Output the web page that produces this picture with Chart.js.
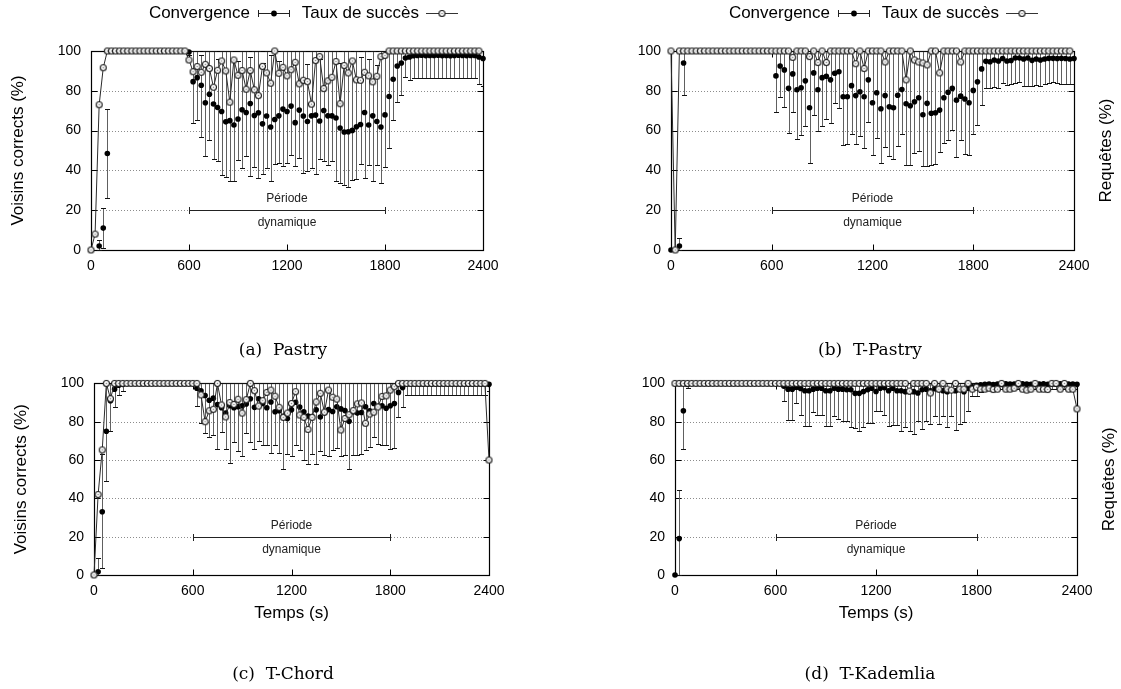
<!DOCTYPE html>
<html><head><meta charset="utf-8">
<script src="https://cdn.jsdelivr.net/npm/chart.js@4.4.1/dist/chart.umd.min.js"></script>
<style>
html,body{margin:0;padding:0;background:#fff;}
body{width:1121px;height:689px;position:relative;overflow:hidden;}
canvas{position:absolute;}
</style></head><body>
<canvas id="cA" width="560" height="365" style="left:0;top:0"></canvas>
<canvas id="cB" width="561" height="365" style="left:560px;top:0"></canvas>
<canvas id="cC" width="560" height="324" style="left:0;top:365px"></canvas>
<canvas id="cD" width="561" height="324" style="left:560px;top:365px"></canvas>
<script>
const N = null;
const times = [
0,25,50,75,100,125,150,175,
200,225,250,275,300,325,350,375,
400,425,450,475,500,525,550,575,
600,625,650,675,700,725,750,775,
800,825,850,875,900,925,950,975,
1000,1025,1050,1075,1100,1125,1150,1175,
1200,1225,1250,1275,1300,1325,1350,1375,
1400,1425,1450,1475,1500,1525,1550,1575,
1600,1625,1650,1675,1700,1725,1750,1775,
1800,1825,1850,1875,1900,1925,1950,1975,
2000,2025,2050,2075,2100,2125,2150,2175,
2200,2225,2250,2275,2300,2325,2350,2375,
2400];
const xTicks = [0,600,1200,1800,2400];
const yTicks = [0,20,40,60,80,100];
const seriesNames = ['Convergence','Taux de succès'];
const captions = ['(a)  Pastry','(b)  T-Pastry','(c)  T-Chord','(d)  T-Kademlia'];
const dynStart = 600, dynEnd = 1800, dynLevel = 20;

/* ---- (a) Pastry ---- */
const convA = [
0,N,2,11,48.5,N,N,N,
N,N,N,N,N,N,N,N,
N,N,N,N,N,N,N,N,
99.5,84.6,86.6,82.8,74,78.3,73.4,71.6,
69.6,64.4,65,62.8,65.8,70.5,69.1,73.6,
67.6,69,63.4,67.3,61.8,65.6,67.4,70.8,
69.6,72.3,64,70.3,67.3,64.6,67.4,67.8,
64.8,70.1,67.4,67.4,66.3,61.3,59.3,59.4,
60.1,61.9,63.1,69.1,62.8,67.4,64.6,61.8,
67.9,77.1,85.8,92.5,94,96.5,97,97.6,
97.8,97.9,97.7,97.8,97.8,97.9,97.7,97.8,
97.6,97.8,97.9,97.8,97.7,97.8,97.8,97,
96.2];
const loA = [
N,N,0,1,26,N,N,N,
N,N,N,N,N,N,N,N,
N,N,N,N,N,N,N,N,
98,64,65.4,57,47.4,55.4,45.7,44.6,
37.9,36.7,34.9,34.6,45,41.2,47,37.4,
41.6,36.2,38.4,41,34.9,43.4,43.7,42,
43.7,47.6,42,46,38.7,39.9,41.2,38.4,
45.7,44.6,42.6,44.6,34.6,33.6,32.9,31.7,
35.4,35.9,43.4,36.2,42.9,34.9,42.9,33.9,
41.7,51.4,65.4,74.5,77.8,87.1,85.5,86.3,
86.3,86.3,86.3,86.3,86.3,86.3,86.3,86.3,
86.3,86.3,86.3,86.3,86.3,86.3,86.3,83.3,
82.5];
const hiA = [
N,N,5,21,71,N,N,N,
N,N,N,N,N,N,N,N,
N,N,N,N,N,N,N,N,
100,100,100,98,100,100,100,96,
100,100,100,95.8,95,100,100,97,
100,100,94,100,98,100,95,100,
100,100,100,100,100,93.5,100,100,
96,100,100,100,100,94,100,100,
95,100,97,100,96,100,93,100,
100,100,100,100,100,100,100,100,
100,100,100,100,100,100,100,100,
100,100,100,100,100,100,100,100,
100];
const tauxA = [
0,8,73,91.6,100,100,100,100,
100,100,100,100,100,100,100,100,
100,100,100,100,100,100,100,100,
95.5,89.6,92.2,89.3,93.3,91.2,81.8,90.3,
95,90,74.3,95.5,87.8,90.2,80.8,90.2,
80.5,77.6,92.3,89,83.8,100,88.8,91.8,
87.5,90.6,94.3,83.5,85.3,84.6,73.3,95.2,
97.2,81.1,85,86.8,94.7,73.5,92.7,89,
95,85.5,85.3,89.3,87.5,84.5,87.3,97.2,
97.8,100,100,100,100,100,100,100,
100,100,100,100,100,100,100,100,
100,100,100,100,100,100,100,100,
N];

/* ---- (b) T-Pastry ---- */
const convB = [
0,N,2,94,N,N,N,N,
N,N,N,N,N,N,N,N,
N,N,N,N,N,N,N,N,
N,87.5,92.5,90.5,81.3,88.5,80.5,81.5,
85,71.5,89,80.5,86.6,87.3,85.5,88.8,
89.6,77,77,82.6,77.6,79.5,77,85.5,
74,79,71,77.6,72,71.5,77.8,80.6,
73.5,72.5,74.5,76.5,68,73.7,68.7,69,
70.3,76.5,79.3,81.2,75.3,77.3,75.9,74,
80.2,84.5,91,94.8,94.6,95.5,95,96.2,
95,95.2,96.5,96.5,96,96.5,95.3,96,
95.5,96,96.3,96.3,96.2,96.3,96.2,96,
96.2];
const loB = [
N,N,0,78,N,N,N,N,
N,N,N,N,N,N,N,N,
N,N,N,N,N,N,N,N,
N,69.4,77,71.8,58.8,69.1,55.9,57.9,
62.1,43.7,67.8,59.6,62.1,65.6,63.8,73.8,
71.3,52.6,53.4,58.1,53.4,57.1,51.3,64.1,
47.9,56.3,43.7,51.8,47.1,45.9,52.4,58.1,
42.6,42.9,48.7,49.6,42.1,42.1,42.6,43.2,
49.1,53.8,55.4,60.4,46.7,55.4,48.4,47.9,
58.3,62.8,73,81.3,81.3,81.8,81.3,83.8,
83,83.2,84,84.3,82.5,82.5,82.2,83,
82.5,83.2,83.8,84.3,83.8,83.5,83.5,83.2,
83.5];
const hiB = [
N,N,6,100,N,N,N,N,
N,N,N,N,N,N,N,N,
N,N,N,N,N,N,N,N,
N,100,100,100,100,100,100,100,
100,100,100,100,100,100,100,100,
100,100,100,100,100,100,100,100,
100,100,100,100,100,100,100,100,
100,100,100,100,100,100,100,100,
100,100,100,100,100,100,100,100,
100,100,100,100,100,100,100,100,
100,100,100,100,100,100,100,100,
100,100,100,100,100,100,100,100,
100];
const tauxB = [
100,0,100,100,100,100,100,100,
100,100,100,100,100,100,100,100,
100,100,100,100,100,100,100,100,
100,100,100,100,100,96.8,100,100,
100,97.2,100,94.2,100,94.2,100,100,
100,100,100,100,93.6,100,91.2,100,
100,100,100,94.5,100,100,100,100,
85.5,100,95.5,94.5,94,93,100,100,
89,100,100,100,100,94.5,100,100,
100,100,100,100,100,100,100,100,
100,100,100,100,100,100,100,100,
100,100,100,100,100,100,100,100,
N];

/* ---- (c) T-Chord ---- */
const convC = [
0,1.7,33,75,91,97,99,99.5,
N,N,N,N,N,N,N,N,
N,N,N,N,N,N,N,N,
N,97.5,96.2,93.7,91.2,92.3,89,87.3,
84.5,88.3,87.3,87.8,88.3,89.3,92,87.5,
92,89.5,87.3,90.3,85.2,85.7,82.8,81.7,
86.2,90.2,87.7,85.2,83,82.7,86.2,82.5,
84.7,86.3,85.3,87.8,86.7,85.8,80.2,85.2,
84.5,84.8,87.8,85.7,89.5,88,88.3,87,
88.3,89.5,95.3,97.8,99.7,99.7,99.7,99.7,
99.7,99.7,99.7,99.7,99.7,99.7,99.7,99.7,
99.7,99.7,99.7,99.7,99.7,99.7,99.7,99.7,
99.5];
const loC = [
N,0,3.7,49,75,87.5,94,96,
N,N,N,N,N,N,N,N,
N,N,N,N,N,N,N,N,
N,88.3,79.5,74.2,72,73.3,66,74.5,
65.8,58.7,69.2,64.8,62,74.2,69.5,66,
69.8,67.8,67.8,63.7,67.8,63.7,55.3,63.2,
62,67.8,65.3,59.8,57.8,63.2,57.8,64.5,
62.8,62,65.3,66.5,62,62.8,55.3,62.5,
62.8,63.2,65.3,67,72,68.3,68,67.8,
66,66.5,82.5,87.5,94,94,94,94,
94,94,94,94,94,94,94,94,
94,94,94,94,94,94,94,94,
96];
const hiC = [
N,9,63,100,100,100,100,100,
N,N,N,N,N,N,N,N,
N,N,N,N,N,N,N,N,
N,100,100,100,100,100,100,100,
100,100,100,100,100,100,100,100,
100,100,100,100,100,100,100,100,
100,100,100,100,100,100,100,100,
100,100,100,100,100,100,100,100,
100,100,100,100,100,100,100,100,
100,100,100,100,100,100,100,100,
100,100,100,100,100,100,100,100,
100,100,100,100,100,100,100,100,
100];
const tauxC = [
0,42,65.3,100,92,100,100,100,
100,100,100,100,100,100,100,100,
100,100,100,100,100,100,100,100,
100,100,94,80,85.7,86.5,100,88.7,
82.5,90,89,91.7,84.5,91.5,100,96.2,
88.2,91,95.3,96.5,93.3,87.5,82.3,84.5,
89.5,95.7,83.5,82.3,76,82.3,90.3,94.8,
85,96.5,92.8,91.8,75.7,81.7,83.7,85.8,
89.3,89.8,79.2,84,85,87.7,93.2,93.5,
96.5,98.3,100,100,100,100,100,100,
100,100,100,100,100,100,100,100,
100,100,100,100,100,100,100,100,
60];

/* ---- (d) T-Kademlia ---- */
const convD = [
0,19,85.7,99.5,N,N,N,N,
N,N,N,N,N,N,N,N,
N,N,N,N,N,N,N,N,
N,N,98.5,97,97,98,97.3,96.2,
96.2,97,97.5,97.5,96.2,96.2,97.5,97,
97,96.7,96.7,94.8,94.8,95.8,96.7,97.5,
95.8,97.5,97.8,96.2,97.5,96.2,96.2,95.7,
95.7,95.7,95,96.7,97,96.2,97.2,96.7,
96.2,95.7,96.7,96.2,97,95.7,97.5,98.2,
99,99.3,99.5,99.6,99.4,99.7,99.5,99.8,
99.6,99.7,99.5,99.8,99.6,99.5,99.7,99.6,
99.8,99.5,99.7,99.6,99.8,99.5,99.7,99.6,
99.5];
const loD = [
N,0,65.7,97.8,N,N,N,N,
N,N,N,N,N,N,N,N,
N,N,N,N,N,N,N,N,
N,N,91,80.7,80.7,90,83.5,78,
77.7,85.3,83.3,83.5,77.7,77.7,82.8,81.2,
80.3,80.3,77,76.5,75,77.5,79.5,79.2,
85.8,85.7,83.7,77.8,78.5,78.2,75.3,77.3,
75.3,73.5,80.3,76,80.3,78.7,82.8,78.7,
82.8,77,82.8,75.8,78.7,80,85.7,93.2,
93.5,95.5,97,97,97,97,97,97,
97,97,97,97,97,97,97,97,
97,97,97,97,97,97,97,97,
97];
const hiD = [
N,44.5,100,100,N,N,N,N,
N,N,N,N,N,N,N,N,
N,N,N,N,N,N,N,N,
N,N,100,100,100,100,100,100,
100,100,100,100,100,100,100,100,
100,100,100,100,100,100,100,100,
100,100,100,100,100,100,100,100,
100,100,100,100,100,100,100,100,
100,100,100,100,100,100,100,100,
100,100,100,100,100,100,100,100,
100,100,100,100,100,100,100,100,
100,100,100,100,100,100,100,100,
100];
const tauxD = [
100,100,100,100,100,100,100,100,
100,100,100,100,100,100,100,100,
100,100,100,100,100,100,100,100,
100,100,100,100,100,100,100,100,
100,100,100,100,100,100,100,100,
100,100,100,100,100,100,100,100,
100,100,100,100,100,100,100,100,
96,100,100,100,100,95,100,97,
100,97,96.5,100,97,97,100,97,
98,97,97,97.5,96.8,97,100,97,
97,97.5,100,97,96.5,97,100,97,
97,96.8,100,100,97,100,97,97,
86.7];

/* ---------- drawing ---------- */
Chart.defaults.font.family = "'Liberation Sans', Arial, sans-serif";
Chart.defaults.color = '#000';
const SANS = "'Liberation Sans', Arial, sans-serif";
const SERIF = "'DejaVu Serif', 'Liberation Serif', serif";

function makeCircleImg(){
  const c = document.createElement('canvas'); c.width = 9; c.height = 9;
  const g = c.getContext('2d');
  g.beginPath(); g.arc(4.5,4.5,3.0,0,Math.PI*2);
  g.fillStyle = '#fff'; g.fill(); g.lineWidth = 1.1; g.strokeStyle = '#1a1a1a'; g.stroke();
  g.beginPath(); g.arc(4.5,4.5,0.8,0,Math.PI*2); g.fillStyle = '#888'; g.fill();
  return c;
}
const circleImg = makeCircleImg();

function pts(vals){
  const out = [];
  vals.forEach((v,i)=>{ if (v !== null) out.push({x: times[i], y: v}); });
  return out;
}

function deco(P){
  return {
    id: 'deco' + P.key,
    beforeDatasetsDraw(chart){
      const {ctx, chartArea: a, scales: {x, y}} = chart;
      ctx.save();
      ctx.strokeStyle = '#8c8c8c'; ctx.lineWidth = 1; ctx.setLineDash([1,2]);
      yTicks.forEach(v => {
        if (v <= 0 || v >= 100) return;
        const py = Math.round(y.getPixelForValue(v)) + 0.5;
        ctx.beginPath(); ctx.moveTo(a.left, py); ctx.lineTo(a.right, py); ctx.stroke();
      });
      ctx.setLineDash([]);
      const L = Math.round(a.left)+0.5, R = Math.round(a.right)+0.5, T = Math.round(a.top)+0.5, B = Math.round(a.bottom)+0.5;
      ctx.strokeStyle = '#000'; ctx.lineWidth = 1.2;
      ctx.strokeRect(L, T, R-L, B-T);
      ctx.lineWidth = 1;
      xTicks.forEach(v => {
        const px = Math.round(x.getPixelForValue(v)) + 0.5;
        ctx.beginPath(); ctx.moveTo(px, B); ctx.lineTo(px, B-6); ctx.moveTo(px, T); ctx.lineTo(px, T+6); ctx.stroke();
      });
      yTicks.forEach(v => {
        const py = Math.round(y.getPixelForValue(v)) + 0.5;
        ctx.beginPath(); ctx.moveTo(L, py); ctx.lineTo(L+6, py); ctx.moveTo(R, py); ctx.lineTo(R-6, py); ctx.stroke();
      });
      const x1 = Math.round(x.getPixelForValue(dynStart))+0.5, x2 = Math.round(x.getPixelForValue(dynEnd))+0.5;
      const yb = Math.round(y.getPixelForValue(dynLevel))+0.5;
      ctx.strokeStyle = '#222';
      ctx.beginPath(); ctx.moveTo(x1, yb); ctx.lineTo(x2, yb);
      ctx.moveTo(x1, yb-3.5); ctx.lineTo(x1, yb+3.5); ctx.moveTo(x2, yb-3.5); ctx.lineTo(x2, yb+3.5); ctx.stroke();
      ctx.fillStyle = '#222'; ctx.font = '12px ' + SANS; ctx.textAlign = 'center'; ctx.textBaseline = 'middle';
      const xc = x.getPixelForValue((dynStart+dynEnd)/2);
      ctx.fillText('Période', xc, yb - 12);
      ctx.fillText('dynamique', xc, yb + 12);
      ctx.beginPath(); ctx.rect(a.left, a.top-1, a.right-a.left, a.bottom-a.top+2); ctx.clip();
      for (let i = 0; i < times.length; i++){
        const lo = P.lo[i], hi = P.hi[i];
        if (lo === null || hi === null) continue;
        const px = Math.round(x.getPixelForValue(times[i])) + 0.5;
        const yl = Math.round(y.getPixelForValue(lo)) + 0.5, yh = Math.round(y.getPixelForValue(hi)) + 0.5;
        ctx.strokeStyle = '#606060'; ctx.lineWidth = 1;
        ctx.beginPath(); ctx.moveTo(px, yl); ctx.lineTo(px, yh); ctx.stroke();
        ctx.strokeStyle = '#111';
        ctx.beginPath(); ctx.moveTo(px-2.5, yl); ctx.lineTo(px+2.5, yl); ctx.moveTo(px-2.5, yh); ctx.lineTo(px+2.5, yh); ctx.stroke();
      }
      ctx.restore();
    },
    afterDraw(chart){
      const {ctx, chartArea: a} = chart;
      ctx.save();
      ctx.fillStyle = '#000';
      ctx.textBaseline = 'middle';
      if (P.legend){
        const ly = 13;
        ctx.font = '17px ' + SANS; ctx.textAlign = 'right';
        ctx.fillText(seriesNames[0], a.left + 159, ly);
        ctx.fillText(seriesNames[1], a.left + 328, ly);
        const s1 = a.left + 167, s2 = a.left + 199;
        ctx.strokeStyle = '#222'; ctx.lineWidth = 1;
        ctx.beginPath(); ctx.moveTo(s1, ly+0.5); ctx.lineTo(s2, ly+0.5);
        ctx.moveTo(s1+0.5, ly-3); ctx.lineTo(s1+0.5, ly+4); ctx.moveTo(s2-0.5, ly-3); ctx.lineTo(s2-0.5, ly+4); ctx.stroke();
        ctx.beginPath(); ctx.arc((s1+s2)/2, ly+0.5, 2.9, 0, Math.PI*2); ctx.fillStyle = '#000'; ctx.fill();
        const t1 = a.left + 335, t2 = a.left + 367;
        ctx.strokeStyle = '#333';
        ctx.beginPath(); ctx.moveTo(t1, ly+0.5); ctx.lineTo(t2, ly+0.5); ctx.stroke();
        ctx.drawImage(circleImg, (t1+t2)/2 - 4.5, ly + 0.5 - 4.5);
      }
      ctx.fillStyle = '#000';
      ctx.font = '17px ' + SANS; ctx.textAlign = 'center';
      ctx.save();
      const ytx = P.yTitleLeft ? a.left - 73 : a.right + 32;
      ctx.translate(ytx, (a.top + a.bottom)/2);
      ctx.rotate(-Math.PI/2);
      ctx.fillText(P.yTitle, 0, 0);
      ctx.restore();
      if (P.xTitle){
        ctx.fillText(P.xTitle, (a.left + a.right)/2, a.bottom + 38);
      }
      ctx.font = '17px ' + SERIF; ctx.textAlign = 'center';
      ctx.fillText(P.caption, P.capX, P.capY);
      ctx.restore();
    }
  };
}

function panel(id, P){
  new Chart(document.getElementById(id), {
    type: 'scatter',
    data: { datasets: [
      { label: seriesNames[1], data: pts(P.taux), showLine: true, borderColor: '#2a2a2a', borderWidth: 1,
        pointStyle: circleImg, pointRadius: 3, order: 0, clip: false },
      { label: seriesNames[0], data: pts(P.conv), showLine: false, pointStyle: 'circle', pointRadius: 2.8,
        backgroundColor: '#000', borderColor: '#000', borderWidth: 0, order: 1, clip: false }
    ]},
    options: {
      responsive: false, animation: false, devicePixelRatio: 1, events: [],
      layout: { padding: { left: 0, top: P.top, right: P.padRight, bottom: 0 } },
      plugins: { legend: { display: false }, tooltip: { enabled: false } },
      scales: {
        x: { type: 'linear', min: 0, max: 2400,
             afterBuildTicks: s => { s.ticks = xTicks.map(v => ({value: v})); },
             ticks: { font: { size: 14 }, color: '#000', padding: 8, maxRotation: 0, autoSkip: false,
                      callback: v => String(v) },
             grid: { display: false, drawTicks: false }, border: { display: false },
             afterFit: s => { s.height = P.xh; } },
        y: { type: 'linear', min: 0, max: 100,
             afterBuildTicks: s => { s.ticks = yTicks.map(v => ({value: v})); },
             ticks: { font: { size: 14 }, color: '#000', padding: 10, callback: v => String(v) },
             grid: { display: false, drawTicks: false }, border: { display: false },
             afterFit: s => { s.width = P.yw; } }
      }
    },
    plugins: [deco(P)]
  });
}

panel('cA', { key:'A', conv: convA, lo: loA, hi: hiA, taux: tauxA, yw: 91, xh: 115, top: 51, padRight: 77,
  legend: true, yTitle: 'Voisins corrects (%)', yTitleLeft: true, xTitle: null, caption: captions[0], capX: 283, capY: 351 });
panel('cB', { key:'B', conv: convB, lo: loB, hi: hiB, taux: tauxB, yw: 111, xh: 115, top: 51, padRight: 47,
  legend: true, yTitle: 'Requêtes (%)', yTitleLeft: false, xTitle: null, caption: captions[1], capX: 310, capY: 351 });
panel('cC', { key:'C', conv: convC, lo: loC, hi: hiC, taux: tauxC, yw: 94, xh: 114, top: 11, padRight: 71,
  legend: false, yTitle: 'Voisins corrects (%)', yTitleLeft: true, xTitle: 'Temps (s)', caption: captions[2], capX: 283, capY: 310 });
panel('cD', { key:'D', conv: convD, lo: loD, hi: hiD, taux: tauxD, yw: 115, xh: 114, top: 11, padRight: 44,
  legend: false, yTitle: 'Requêtes (%)', yTitleLeft: false, xTitle: 'Temps (s)', caption: captions[3], capX: 310, capY: 310 });
</script>
</body></html>
